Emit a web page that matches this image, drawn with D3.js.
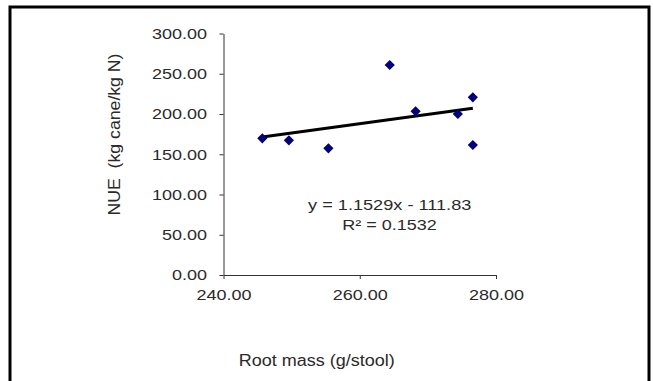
<!DOCTYPE html>
<html>
<head>
<meta charset="utf-8">
<script src="https://cdn.jsdelivr.net/npm/d3@7"></script>
<style>
  body { margin: 0; background: #fff; }
  svg { display: block; font-family: "Liberation Sans", Arial, sans-serif; }
</style>
</head>
<body>
<script>
// data
var rootMass = [245.7, 249.6, 255.4, 264.4, 268.2, 274.4, 276.6, 276.6]
var nue = [169.8, 167.3, 157.4, 260.9, 203.3, 200.0, 220.7, 161.5]
var xTicks = [240, 260, 280]
var yTicks = [0, 50, 100, 150, 200, 250, 300]
var slope = 1.1529
var intercept = -111.83
var eqLabel = "y = 1.1529x - 111.83"
var r2Label = "R² = 0.1532"

var width = 653
var height = 381

var svg = d3.select("body").append("svg")
  .attr("width", width)
  .attr("height", height)

// outer frame (bottom edge runs off the picture)
svg.append("rect")
  .attr("x", 10).attr("y", 7)
  .attr("width", 639).attr("height", 420)
  .attr("fill", "#fff")
  .attr("stroke", "#000")
  .attr("stroke-width", 3)

var x = d3.scaleLinear().domain([240, 280]).range([223.5, 496])
var y = d3.scaleLinear().domain([0, 300]).range([275, 33.5])

// widen text a bit, the source image is stretched horizontally
function stretch(sel, k) {
  sel.each(function () {
    var w = this.getComputedTextLength()
    d3.select(this).attr("textLength", w * k).attr("lengthAdjust", "spacingAndGlyphs")
  })
}

// y axis
var gy = svg.append("g")
  .attr("transform", "translate(" + x(240) + ",0)")
  .call(d3.axisLeft(y).tickValues(yTicks).tickFormat(d3.format(".2f")).tickSize(4).tickPadding(12.5).tickSizeOuter(0))
gy.select(".domain").attr("stroke", "#333")
gy.selectAll(".tick line").attr("stroke", "#333")
gy.selectAll("text").attr("font-size", 15).attr("fill", "#2a2a2a").attr("font-family", null)
stretch(gy.selectAll("text"), 1.2)

// x axis
var gx = svg.append("g")
  .attr("transform", "translate(0," + y(0) + ")")
  .call(d3.axisBottom(x).tickValues(xTicks).tickFormat(d3.format(".2f")).tickSize(4).tickPadding(10.5).tickSizeOuter(0))
gx.select(".domain").attr("stroke", "#333")
gx.selectAll(".tick line").attr("stroke", "#333")
gx.selectAll("text").attr("font-size", 15).attr("fill", "#2a2a2a").attr("font-family", null)
stretch(gx.selectAll("text"), 1.2)

// trend line from the fitted equation
var xExt = d3.extent(rootMass)
svg.append("line")
  .attr("x1", x(xExt[0])).attr("y1", y(slope * xExt[0] + intercept))
  .attr("x2", x(xExt[1])).attr("y2", y(slope * xExt[1] + intercept))
  .attr("stroke", "#000")
  .attr("stroke-width", 3)

// points
svg.selectAll("path.pt")
  .data(rootMass)
  .enter()
  .append("path")
  .attr("class", "pt")
  .attr("d", d3.symbol().type(d3.symbolSquare).size(52))
  .attr("transform", (d, i) => "translate(" + x(d) + "," + y(nue[i]) + ") rotate(45)")
  .attr("fill", "#00007a")

// equation text
var eq = svg.append("text")
  .attr("x", 389.7).attr("y", 209.5)
  .attr("text-anchor", "middle")
  .attr("font-size", 15)
  .attr("fill", "#2a2a2a")
  .text(eqLabel)
stretch(eq, 1.21)

var r2 = svg.append("text")
  .attr("x", 389.5).attr("y", 229.5)
  .attr("text-anchor", "middle")
  .attr("font-size", 15)
  .attr("fill", "#2a2a2a")
  .text(r2Label)
stretch(r2, 1.2)

// axis titles
var xt = svg.append("text")
  .attr("x", 316.7).attr("y", 366)
  .attr("text-anchor", "middle")
  .attr("font-size", 16)
  .attr("fill", "#2a2a2a")
  .text("Root mass (g/stool)")
xt.attr("textLength", 156).attr("lengthAdjust", "spacingAndGlyphs")

var yt = svg.append("text")
  .attr("transform", "translate(119.5,134.5) rotate(-90)")
  .attr("text-anchor", "middle")
  .attr("font-size", 16)
  .attr("fill", "#2a2a2a")
  .style("white-space", "pre")
  .text("NUE  (kg cane/kg N)")
yt.attr("textLength", 162).attr("lengthAdjust", "spacingAndGlyphs")
</script>
</body>
</html>
